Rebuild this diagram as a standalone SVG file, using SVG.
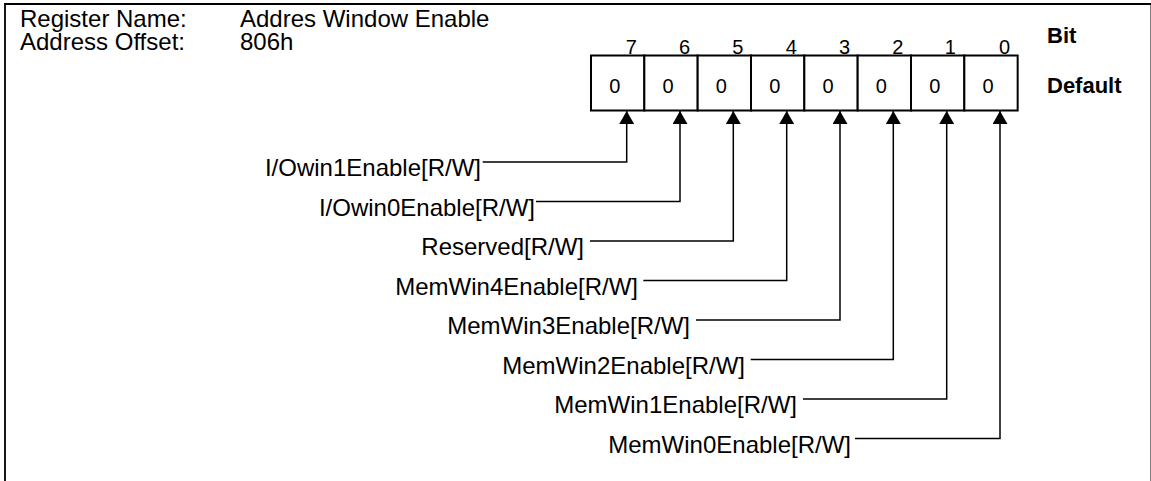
<svg xmlns="http://www.w3.org/2000/svg" width="1151" height="481" viewBox="0 0 1151 481">
<defs>
<style>
.t{font-family:"Liberation Sans",Arial,sans-serif;font-size:24px;fill:#000}
.d{font-family:"Liberation Sans",Arial,sans-serif;font-size:20px;fill:#000}
.b{font-family:"Liberation Sans",Arial,sans-serif;font-size:22px;font-weight:bold;fill:#000}
.cell{fill:#fff;stroke:#000;stroke-width:2}
.con{fill:none;stroke:#000;stroke-width:1.5}
.frame{fill:none;stroke:#000;stroke-width:1.8}
</style>
<marker id="ah" viewBox="0 0 13 15" refX="13" refY="7.5" markerWidth="13" markerHeight="15" markerUnits="userSpaceOnUse" orient="auto">
<path d="M0,0 L13,7.5 L0,15 Z" fill="#000"/>
</marker>
</defs>
<rect width="1151" height="481" fill="#fff"/>
<path class="frame" d="M5,481 V4 H1151.4 V481"/>
<g id="header">
<text class="t" x="20" y="27">Register Name:</text>
<text class="t" x="240" y="27">Addres Window Enable</text>
<text class="t" x="20" y="50">Address Offset:</text>
<text class="t" x="240" y="50">806h</text>
<text class="b" x="1047" y="43">Bit</text>
<text class="b" x="1047" y="93">Default</text>
</g>
<g id="register">
<g id="bit7"><rect class="cell" x="591" y="55.5" width="53.33" height="55"/><text class="d" x="614.7" y="93" text-anchor="middle">0</text><text class="d" x="625.7" y="54">7</text></g>
<g id="bit6"><rect class="cell" x="644.33" y="55.5" width="53.33" height="55"/><text class="d" x="668" y="93" text-anchor="middle">0</text><text class="d" x="679" y="54">6</text></g>
<g id="bit5"><rect class="cell" x="697.67" y="55.5" width="53.33" height="55"/><text class="d" x="721.3" y="93" text-anchor="middle">0</text><text class="d" x="732.3" y="54">5</text></g>
<g id="bit4"><rect class="cell" x="751" y="55.5" width="53.33" height="55"/><text class="d" x="774.7" y="93" text-anchor="middle">0</text><text class="d" x="785.7" y="54">4</text></g>
<g id="bit3"><rect class="cell" x="804.33" y="55.5" width="53.33" height="55"/><text class="d" x="828" y="93" text-anchor="middle">0</text><text class="d" x="839" y="54">3</text></g>
<g id="bit2"><rect class="cell" x="857.67" y="55.5" width="53.33" height="55"/><text class="d" x="881.3" y="93" text-anchor="middle">0</text><text class="d" x="892.3" y="54">2</text></g>
<g id="bit1"><rect class="cell" x="911" y="55.5" width="53.33" height="55"/><text class="d" x="934.7" y="93" text-anchor="middle">0</text><text class="d" x="944.7" y="54">1</text></g>
<g id="bit0"><rect class="cell" x="964.33" y="55.5" width="53.33" height="55"/><text class="d" x="988" y="93" text-anchor="middle">0</text><text class="d" x="999" y="54">0</text></g>
</g>
<g id="labels">
<text class="t" x="481" y="176" text-anchor="end">I/Owin1Enable[R/W]</text>
<text class="t" x="535" y="215.5" text-anchor="end">I/Owin0Enable[R/W]</text>
<text class="t" x="584" y="255" text-anchor="end">Reserved[R/W]</text>
<text class="t" x="638" y="294.5" text-anchor="end">MemWin4Enable[R/W]</text>
<text class="t" x="690" y="334" text-anchor="end">MemWin3Enable[R/W]</text>
<text class="t" x="745" y="373.5" text-anchor="end">MemWin2Enable[R/W]</text>
<text class="t" x="797" y="413" text-anchor="end">MemWin1Enable[R/W]</text>
<text class="t" x="851" y="452.5" text-anchor="end">MemWin0Enable[R/W]</text>
</g>
<g id="connectors">
<path class="con" marker-end="url(#ah)" d="M482.7,162 H626.7 V111"/>
<path class="con" marker-end="url(#ah)" d="M536,201.5 H680 V111"/>
<path class="con" marker-end="url(#ah)" d="M590,241 H733.3 V111"/>
<path class="con" marker-end="url(#ah)" d="M643.3,280.5 H786.7 V111"/>
<path class="con" marker-end="url(#ah)" d="M696,320 H840 V111"/>
<path class="con" marker-end="url(#ah)" d="M750.7,359.5 H893.3 V111"/>
<path class="con" marker-end="url(#ah)" d="M803,399 H946.7 V111"/>
<path class="con" marker-end="url(#ah)" d="M855,438.5 H1000 V111"/>
</g>
</svg>
